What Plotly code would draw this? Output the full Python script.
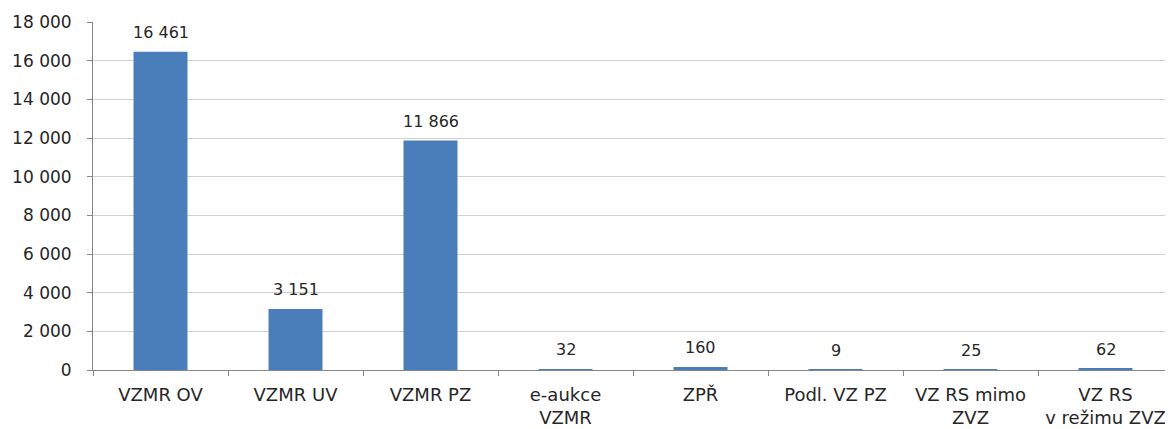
import plotly.graph_objects as go

categories = ["VZMR OV", "VZMR UV", "VZMR PZ", "e-aukce<br>VZMR", "ZPŘ",
              "Podl. VZ PZ", "VZ RS mimo<br>ZVZ", "VZ RS<br>v režimu ZVZ"]
values = [16461, 3151, 11866, 32, 160, 9, 25, 62]
value_labels = ["16 461", "3 151", "11 866", "32", "160", "9", "25", "62"]

FONT = "DejaVu Sans"

fig = go.Figure()
fig.add_trace(go.Bar(
    x=categories, y=values,
    marker=dict(color="#4A7EBB", line=dict(width=0)),
    width=0.4,
    hoverinfo="skip",
))

for c, v, t in zip(categories, values, value_labels):
    fig.add_annotation(x=c, y=v, text=t, showarrow=False, yanchor="bottom",
                       yshift=8, font=dict(family=FONT, size=16, color="#262626"))

# page body has an 8px margin: compensate so the plot area sits where the reference has it
fig.update_layout(
    width=1165, height=421,
    margin=dict(l=85, r=0, t=14, b=59),
    paper_bgcolor="white", plot_bgcolor="white",
    separators=", ",
    showlegend=False,
    font=dict(family=FONT, size=16, color="#262626"),
)
fig.update_xaxes(
    type="category", tickson="boundaries", ticks="outside", ticklen=5,
    tickcolor="#868686", showline=True, linecolor="#868686", linewidth=1,
    showgrid=False, tickfont=dict(size=18), ticklabelstandoff=8,
    tickangle=0, automargin=False,
)
fig.update_yaxes(
    range=[0, 18000], dtick=2000, tickformat=",d", ticks="outside", ticklen=5,
    tickcolor="#868686", showline=True, linecolor="#868686", linewidth=1,
    showgrid=True, gridcolor="#D0D0D0", zeroline=False, tickfont=dict(size=17),
    automargin=False, ticklabelstandoff=12,
)

fig.write_html("out.html")
